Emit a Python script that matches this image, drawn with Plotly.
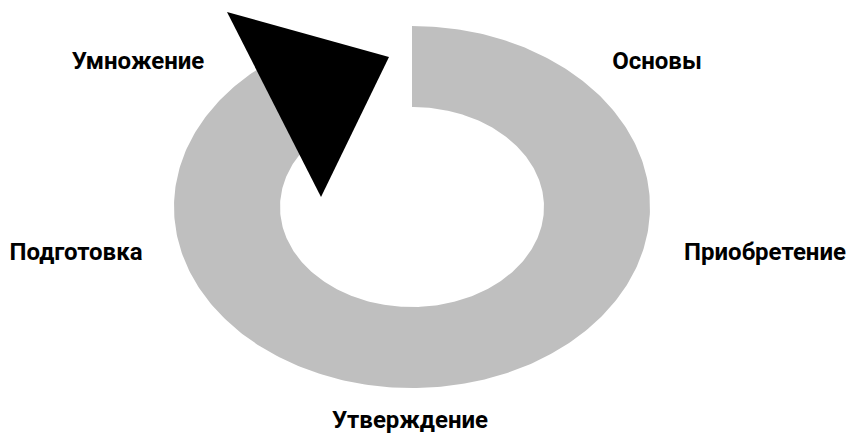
import numpy as np
import plotly.graph_objects as go

# Stage names of the cycle
stages = ["Основы", "Приобретение", "Утверждение", "Подготовка", "Умножение"]

# Layout (pixel-like coordinates of the 850x433 canvas)
label_x = [657, 765, 410, 76, 138]
label_y = [63, 254, 422, 254, 63]

cx, cy = 412, 207
outer_rx, outer_ry = 238, 181
inner_rx, inner_ry = 132, 100
t = np.radians(np.linspace(90, -242, 400))
ox = cx + outer_rx * np.cos(t)
oy = cy - outer_ry * np.sin(t)
ix = cx + inner_rx * np.cos(t[::-1])
iy = cy - inner_ry * np.sin(t[::-1])
ring_x = np.concatenate([ox, ix, ox[:1]])
ring_y = np.concatenate([oy, iy, oy[:1]])

arrow_x = [227, 389, 321, 227]
arrow_y = [12, 57, 197, 12]

fig = go.Figure()
fig.add_trace(go.Scatter(x=ring_x, y=ring_y, mode="lines", fill="toself",
                         fillcolor="#bfbfbf", line=dict(width=0, color="#bfbfbf"),
                         hoverinfo="skip", showlegend=False))
fig.add_trace(go.Scatter(x=arrow_x, y=arrow_y, mode="lines", fill="toself",
                         fillcolor="#000000", line=dict(width=0, color="#000000"),
                         hoverinfo="skip", showlegend=False))
fig.add_trace(go.Scatter(x=label_x, y=label_y, mode="text", text=stages,
                         textfont=dict(family="Roboto", size=24, color="#000000", weight="bold"),
                         cliponaxis=False, hoverinfo="skip", showlegend=False))

fig.update_layout(
    width=850, height=433,
    margin=dict(l=0, r=0, t=0, b=0),
    paper_bgcolor="white", plot_bgcolor="white",
    xaxis=dict(range=[0, 850], visible=False, fixedrange=True),
    yaxis=dict(range=[433, 0], visible=False, fixedrange=True),
)
fig.write_html("out.html", config={"displayModeBar": False},
               post_script="document.body.style.margin='0';document.body.style.padding='0';")
